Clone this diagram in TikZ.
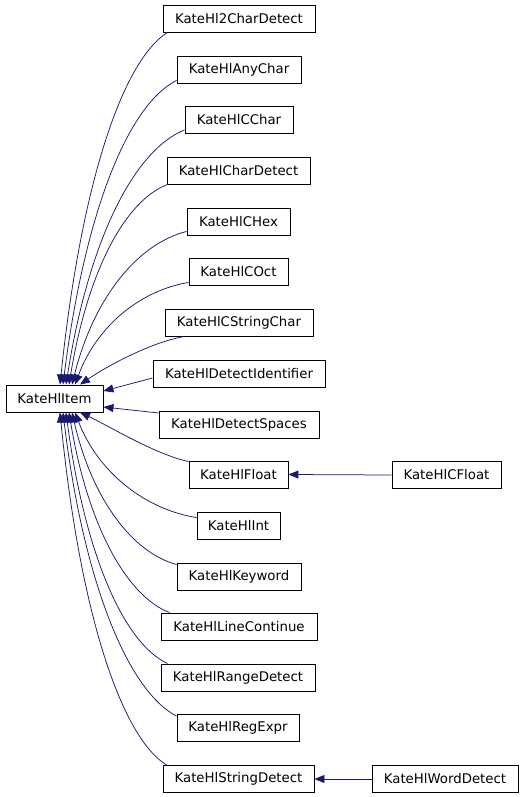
\documentclass[tikz,border=0pt]{standalone}
\usepackage{fontspec}
\setmainfont{DejaVu Sans}
\usetikzlibrary{arrows.meta}
\definecolor{edgeblue}{HTML}{191970}
\begin{document}
\begin{tikzpicture}[x=1pt,y=-1pt,
  cls/.style={draw=black,line width=0.9pt,fill=white,minimum height=27pt,inner sep=0pt,font=\fontsize{13.3}{15}\selectfont},
  edge/.style={draw=edgeblue,line width=0.75pt,-{Triangle[length=10pt,width=8pt]},edgeblue}]
\useasboundingbox (0,0) rectangle (525,797);
\node[cls,minimum width=97pt] (item) at (54.5,398.5) {KateHlItem};
\node[cls,minimum width=152pt] (n1) at (239,18.5) {KateHl2CharDetect};
\node[cls,minimum width=124pt] (n2) at (239,69.5) {KateHlAnyChar};
\node[cls,minimum width=108pt] (n3) at (239,120) {KateHlCChar};
\node[cls,minimum width=143pt] (n4) at (238.5,170.5) {KateHlCharDetect};
\node[cls,minimum width=103pt] (n5) at (238.5,221.5) {KateHlCHex};
\node[cls,minimum width=99pt] (n6) at (238.5,271.5) {KateHlCOct};
\node[cls,minimum width=148pt] (n7) at (239,322.5) {KateHlCStringChar};
\node[cls,minimum width=172pt] (n8) at (239,373.5) {KateHlDetectIdentifier};
\node[cls,minimum width=160pt] (n9) at (239,424.5) {KateHlDetectSpaces};
\node[cls,minimum width=99pt] (n10) at (238.5,474.5) {KateHlFloat};
\node[cls,minimum width=83pt] (n11) at (238.5,525.5) {KateHlInt};
\node[cls,minimum width=124pt] (n12) at (239,576.5) {KateHlKeyword};
\node[cls,minimum width=156pt] (n13) at (239,626.5) {KateHlLineContinue};
\node[cls,minimum width=154pt] (n14) at (238,677.5) {KateHlRangeDetect};
\node[cls,minimum width=122pt] (n15) at (238,728) {KateHlRegExpr};
\node[cls,minimum width=151pt] (n16) at (238.5,779) {KateHlStringDetect};
\node[cls,minimum width=109pt] (cf) at (446.5,475) {KateHlCFloat};
\node[cls,minimum width=146pt] (wd) at (445,779) {KateHlWordDetect};
% upper children
\draw[edge] ([xshift=5pt]n1.south west) .. controls +(-45,28) and +(21,-201) .. ([xshift=5.5pt]item.north);
\draw[edge] ([yshift=3pt]n2.south west) .. controls +(-48,24) and +(22,-174) .. ([xshift=8.5pt]item.north);
\draw[edge] ([yshift=4pt]n3.south west) .. controls +(-50,20) and +(23,-146) .. ([xshift=11.5pt]item.north);
\draw[edge] ([xshift=1pt]n4.south west) .. controls +(-42,16) and +(19,-115) .. ([xshift=14.5pt]item.north);
\draw[edge] ([yshift=4pt]n5.south west) .. controls +(-48,12) and +(22,-88) .. ([xshift=17.5pt]item.north);
\draw[edge] ([yshift=3pt]n6.south west) .. controls +(-48,8) and +(22,-59) .. ([xshift=20.5pt]item.north);
\draw[edge] ([xshift=20pt]n7.south west) .. controls +(-35,6) and +(25,-17) .. ([xshift=25.5pt]item.north);
\draw[edge] ([yshift=-4.5pt]n8.west) -- ([yshift=7.5pt]item.east);
\draw[edge] ([yshift=11.5pt]n9.west) -- ([yshift=-8.5pt]item.east);
% lower children
\draw[edge] ([yshift=-1pt]n10.north west) .. controls +(-33,-7) and +(28,13) .. ([xshift=25.5pt]item.south);
\draw[edge] ([yshift=-6pt]n11.north west) .. controls +(-51,-8) and +(23,60) .. ([xshift=20.5pt]item.south);
\draw[edge] ([yshift=-2pt]n12.north west) .. controls +(-44,-12) and +(20,87) .. ([xshift=17.5pt]item.south);
\draw[edge] ([xshift=9pt]n13.north west) .. controls +(-42,-16) and +(19,115) .. ([xshift=14.5pt]item.south);
\draw[edge] ([xshift=7pt]n14.north west) .. controls +(-43,-20) and +(19,144) .. ([xshift=11.5pt]item.south);
\draw[edge] ([yshift=-2pt]n15.north west) .. controls +(-47,-24) and +(21,174) .. ([xshift=8.5pt]item.south);
\draw[edge] ([xshift=4pt]n16.north west) .. controls +(-45,-28) and +(20,202) .. ([xshift=5.5pt]item.south);
% grandchildren
\draw[edge] (cf.west) -- (n10.east);
\draw[edge] (wd.west) -- (n16.east);
\end{tikzpicture}
\end{document}
